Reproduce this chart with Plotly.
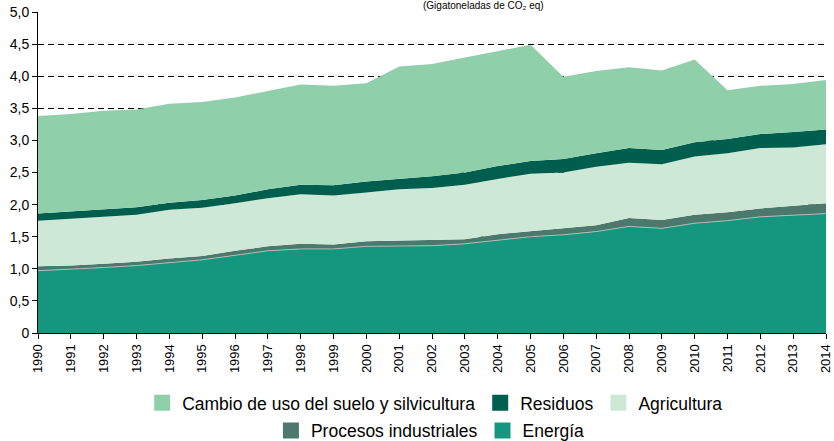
import plotly.graph_objects as go

years = list(range(1990, 2015))
energia = [0.97, 0.99, 1.02, 1.05, 1.10, 1.14, 1.21, 1.28, 1.31, 1.31, 1.35, 1.35, 1.36,
           1.39, 1.45, 1.50, 1.53, 1.58, 1.66, 1.63, 1.71, 1.75, 1.81, 1.84, 1.86]
procesos = [0.07, 0.06, 0.06, 0.06, 0.06, 0.06, 0.07, 0.07, 0.08, 0.07, 0.08, 0.09, 0.09,
            0.07, 0.09, 0.09, 0.10, 0.10, 0.13, 0.13, 0.13, 0.13, 0.13, 0.14, 0.16]
agricultura = [0.71, 0.73, 0.73, 0.73, 0.76, 0.75, 0.74, 0.75, 0.77, 0.76, 0.76, 0.80, 0.81,
               0.85, 0.86, 0.89, 0.87, 0.91, 0.86, 0.87, 0.91, 0.92, 0.94, 0.91, 0.92]
residuos = [0.11, 0.11, 0.11, 0.12, 0.11, 0.12, 0.12, 0.14, 0.15, 0.16, 0.17, 0.16, 0.18,
            0.19, 0.20, 0.20, 0.21, 0.21, 0.23, 0.22, 0.22, 0.22, 0.22, 0.24, 0.23]
cambio = [1.52, 1.52, 1.54, 1.52, 1.54, 1.53, 1.53, 1.53, 1.56, 1.55, 1.53, 1.75, 1.75,
          1.79, 1.79, 1.81, 1.28, 1.28, 1.26, 1.24, 1.29, 0.76, 0.75, 0.75, 0.77]

y_ticks = [0, 0.5, 1.0, 1.5, 2.0, 2.5, 3.0, 3.5, 4.0, 4.5, 5.0]
y_labels = ["0", "0,5", "1,0", "1,5", "2,0", "2,5", "3,0", "3,5", "4,0", "4,5", "5,0"]

series = [
    ("Energía", energia, "#14977e", "legend2"),
    ("Procesos industriales", procesos, "#4d786e", "legend2"),
    ("Agricultura", agricultura, "#cde8d6", "legend"),
    ("Residuos", residuos, "#005e4f", "legend"),
    ("Cambio de uso del suelo y silvicultura", cambio, "#8fd0ab", "legend"),
]

FONT = "Liberation Sans, Arial, sans-serif"
fig = go.Figure()
for name, vals, col, lg in series:
    line = dict(width=1, color="#a7bdb5") if name == "Energía" else dict(width=0, color=col)
    fig.add_trace(go.Scatter(
        x=years, y=vals, name=name, stackgroup="one", mode="lines",
        line=line, fillcolor=col, showlegend=False))

# legend entries (square swatches)
legend_order = ["Cambio de uso del suelo y silvicultura", "Residuos", "Agricultura",
                "Procesos industriales", "Energía"]
lookup = {s[0]: s for s in series}
for name in legend_order:
    _, _, col, lg = lookup[name]
    fig.add_trace(go.Scatter(
        x=[None], y=[None], name=name, mode="markers",
        marker=dict(symbol="square", size=16, color=col), legend=lg, showlegend=True))

fig.update_layout(
    width=834, height=441,
    margin=dict(l=38, r=8, t=12, b=108, autoexpand=False),
    paper_bgcolor="white", plot_bgcolor="white",
    font=dict(family=FONT, size=13, color="black"),
    xaxis=dict(range=[1990, 2014], tickmode="array", tickvals=years,
               ticktext=[str(y) for y in years], tickangle=-90,
               showline=True, linecolor="black", linewidth=1,
               ticks="outside", ticklen=5, tickcolor="black",
               showgrid=False, zeroline=False, tickfont=dict(size=13)),
    yaxis=dict(range=[0, 5], tickmode="array", tickvals=y_ticks, ticktext=y_labels,
               showline=True, linecolor="black", linewidth=1,
               ticks="outside", ticklen=5, tickcolor="black",
               showgrid=True, gridcolor="black", gridwidth=1, griddash="6px,4px",
               zeroline=False, tickfont=dict(size=14)),
    legend=dict(orientation="h", x=0.504, xanchor="center", y=-0.218, yanchor="middle",
                font=dict(size=17.5), bgcolor="rgba(0,0,0,0)", itemwidth=30,
                traceorder="normal"),
    legend2=dict(orientation="h", x=0.498, xanchor="center", y=-0.304, yanchor="middle",
                 font=dict(size=17.5), bgcolor="rgba(0,0,0,0)", itemwidth=30,
                 traceorder="normal"),
    annotations=[dict(text="(Gigatoneladas de CO₂ eq)", xref="paper", yref="paper",
                      x=0.565, y=1.0, xanchor="center", yanchor="bottom", yshift=-1,
                      showarrow=False, font=dict(size=10, color="black"))],
)

fig.write_html("out.html", config={"displayModeBar": False},
               post_script="document.body.style.margin='0';document.body.style.overflow='hidden';")
